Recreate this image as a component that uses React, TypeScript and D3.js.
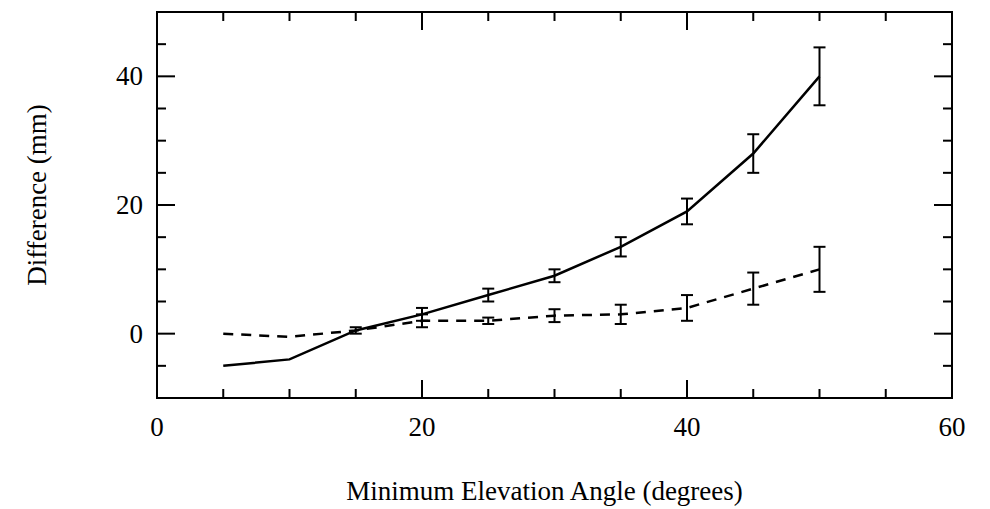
import React, { useEffect, useRef } from 'react';
import * as d3 from 'd3';

const angles = [5, 10, 15, 20, 25, 30, 35, 40, 45, 50];
const solidVals = [-5, -4, 0.5, 3, 6, 9, 13.5, 19, 28, 40];
const solidErr = [0, 0, 0.5, 1, 1, 1, 1.5, 2, 3, 4.5];
const dashVals = [0, -0.5, 0.5, 2, 2, 2.8, 3, 4, 7, 10];
const dashErr = [0, 0, 0, 1, 0.5, 1, 1.5, 2, 2.5, 3.5];
const xTicks = [0, 20, 40, 60];
const yTicks = [0, 20, 40];

export default function App() {
  const ref = useRef<SVGSVGElement>(null);
  useEffect(() => {
    const svg = d3.select(ref.current!);
    svg.selectAll('*').remove();
    const L = 157, R = 952, T = 12, B = 398;
    const x = d3.scaleLinear().domain([0, 60]).range([L, R]);
    const y = d3.scaleLinear().domain([-10, 50]).range([B, T]);
    const font = 'Liberation Serif, Times New Roman, serif';

    svg.append('rect').attr('x', L).attr('y', T).attr('width', R - L).attr('height', B - T)
      .attr('fill', 'none').attr('stroke', '#000').attr('stroke-width', 2);

    const tick = (x1: number, y1: number, x2: number, y2: number) =>
      svg.append('line').attr('x1', x1).attr('y1', y1).attr('x2', x2).attr('y2', y2)
        .attr('stroke', '#000').attr('stroke-width', 2);
    d3.range(5, 60, 5).forEach(v => {
      const len = v % 20 === 0 ? 18 : 9;
      tick(x(v), B, x(v), B - len);
      tick(x(v), T, x(v), T + len);
    });
    d3.range(-5, 50, 5).forEach(v => {
      const len = v % 20 === 0 ? 18 : 9;
      tick(L, y(v), L + len, y(v));
      tick(R, y(v), R - len, y(v));
    });

    xTicks.forEach(v => svg.append('text').attr('x', x(v)).attr('y', B + 38)
      .attr('text-anchor', 'middle').attr('font-family', font).attr('font-size', 27).text(v));
    yTicks.forEach(v => svg.append('text').attr('x', L - 14).attr('y', y(v) + 9)
      .attr('text-anchor', 'end').attr('font-family', font).attr('font-size', 27).text(v));

    svg.append('text').attr('x', (L + R) / 2 - 10).attr('y', 500).attr('text-anchor', 'middle')
      .attr('font-family', font).attr('font-size', 27).text('Minimum Elevation Angle (degrees)');
    svg.append('text').attr('transform', `translate(46,${(T + B) / 2 - 10}) rotate(-90)`)
      .attr('text-anchor', 'middle').attr('font-family', font).attr('font-size', 27).text('Difference (mm)');

    const line = d3.line<number>().x((_, i) => x(angles[i])).y(d => y(d));
    const series = [
      { vals: solidVals, err: solidErr, dash: null },
      { vals: dashVals, err: dashErr, dash: '10,8' },
    ];
    series.forEach(s => {
      svg.append('path').attr('d', line(s.vals)).attr('fill', 'none').attr('stroke', '#000')
        .attr('stroke-width', 2.5).attr('stroke-dasharray', s.dash);
      s.vals.forEach((v, i) => {
        const e = s.err[i];
        if (!e) return;
        const cx = x(angles[i]);
        tick(cx, y(v - e), cx, y(v + e));
        tick(cx - 6, y(v - e), cx + 6, y(v - e));
        tick(cx - 6, y(v + e), cx + 6, y(v + e));
      });
    });
  }, []);
  return <svg ref={ref} width={990} height={509} style={{ position: 'absolute', left: 0, top: 0, background: '#fff' }} />;
}
